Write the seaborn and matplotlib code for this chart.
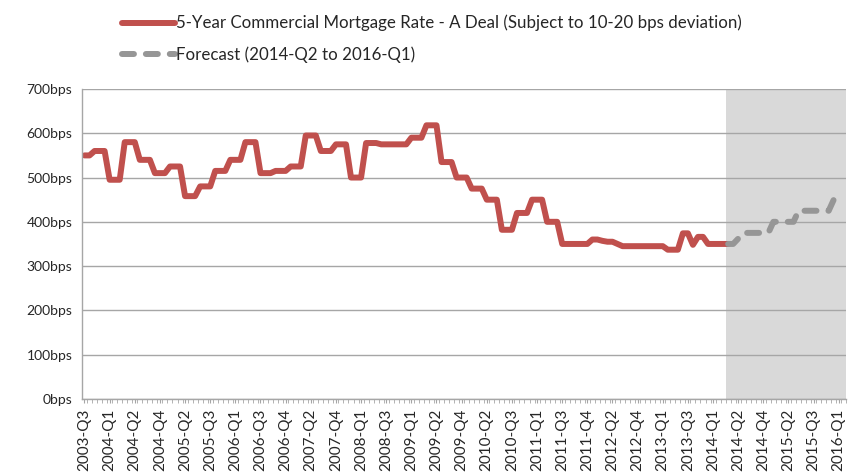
import matplotlib
matplotlib.use("Agg")
import matplotlib.pyplot as plt
from matplotlib.ticker import FuncFormatter, MultipleLocator
import numpy as np
import pandas as pd
import seaborn as sns

# monthly rate in bps, Aug 2003 .. Apr 2014
actual = [
    550, 550,
    560, 560, 560, 495, 495, 495, 580, 580, 580, 540, 540, 540,
    510, 510, 510, 525, 525, 525, 458, 458, 458, 480, 480, 480,
    515, 515, 515, 540, 540, 540, 580, 580, 580, 510, 510, 510,
    515, 515, 515, 525, 525, 525, 595, 595, 595, 560, 560, 560,
    575, 575, 575, 500, 500, 500, 578, 578, 578, 575, 575, 575,
    575, 575, 575, 590, 590, 590, 618, 618, 618, 535, 535, 535,
    500, 500, 500, 475, 475, 475, 450, 450, 450, 382, 382, 382,
    420, 420, 420, 450, 450, 450, 400, 400, 400, 350, 350, 350,
    350, 350, 350, 360, 360, 357, 355, 355, 350, 345, 345, 345,
    345, 345, 345, 345, 345, 345, 337, 337, 337, 374, 374, 348,
    366, 366, 350, 350, 350, 350, 350,
]
# forecast, Apr 2014 .. Mar 2016
forecast = [
    350, 350, 362, 375, 375, 375, 375, 375, 375, 400, 400, 400,
    400, 400, 425, 425, 425, 425, 425, 425, 425, 450, 450, 450,
]
tick_labels = [
    "2003-Q3", "2004-Q1", "2004-Q2", "2004-Q4", "2005-Q2", "2005-Q3",
    "2006-Q1", "2006-Q3", "2006-Q4", "2007-Q2", "2007-Q4", "2008-Q1",
    "2008-Q3", "2009-Q1", "2009-Q2", "2009-Q4", "2010-Q2", "2010-Q3",
    "2011-Q1", "2011-Q3", "2011-Q4", "2012-Q2", "2012-Q4", "2013-Q1",
    "2013-Q3", "2014-Q1", "2014-Q2", "2014-Q4", "2015-Q2", "2015-Q3",
    "2016-Q1",
]

sns.set_style("white")
plt.rcParams["font.family"] = ["Lato", "DejaVu Sans"]

start_fc = len(actual) - 1
n_months = start_fc + len(forecast)
df_a = pd.DataFrame({"month": np.arange(len(actual)), "bps": actual})
df_f = pd.DataFrame({"month": np.arange(start_fc, n_months), "bps": forecast})

fig = plt.figure(figsize=(8.54, 4.76), dpi=100)
ax = fig.add_axes([0.096, 0.162, 0.895, 0.651])

# forecast window shading
ax.axvspan(start_fc - 0.4, n_months - 0.5, color="#D9D9D9", lw=0, zorder=0)

sns.lineplot(data=df_a, x="month", y="bps", ax=ax, color="#C0504D", lw=4.3,
             solid_capstyle="round", solid_joinstyle="round",
             label="5-Year Commercial Mortgage Rate - A Deal (Subject to 10-20 bps deviation)")
sns.lineplot(data=df_f, x="month", y="bps", ax=ax, color="#969696", lw=4.3,
             linestyle=(0, (2.0, 2.0)), dash_capstyle="round",
             label="Forecast (2014-Q2 to 2016-Q1)")

ax.set_xlim(-0.5, n_months - 0.5)
ax.set_ylim(0, 700)
ax.yaxis.set_major_locator(MultipleLocator(100))
ax.yaxis.set_major_formatter(FuncFormatter(lambda v, p: f"{int(v)}bps"))
ax.grid(axis="y", color="#A6A6A6", lw=1.0)
ax.set_axisbelow(True)

ax.set_xticks(np.arange(0, n_months, 5))
ax.set_xticklabels(tick_labels, rotation=90)
ax.set_xticks(np.arange(0, n_months) + 0.5, minor=True)
ax.tick_params(axis="x", which="both", length=3, color="#A6A6A6", direction="out",
               labelsize=11, pad=4, bottom=True)
ax.tick_params(axis="y", length=0, labelsize=10, pad=7)
ax.set_xlabel("")
ax.set_ylabel("")

for s in ["top", "right"]:
    ax.spines[s].set_visible(False)
for s in ["left", "bottom"]:
    ax.spines[s].set_color("#A6A6A6")
    ax.spines[s].set_linewidth(1.0)

leg = ax.legend(loc="upper left", bbox_to_anchor=(0.131, 0.99), bbox_transform=fig.transFigure,
                frameon=False, fontsize=12.2, handlelength=3.1, handletextpad=0.1,
                labelspacing=0.9, borderaxespad=0.2)

fig.savefig("out.png", dpi=100)
